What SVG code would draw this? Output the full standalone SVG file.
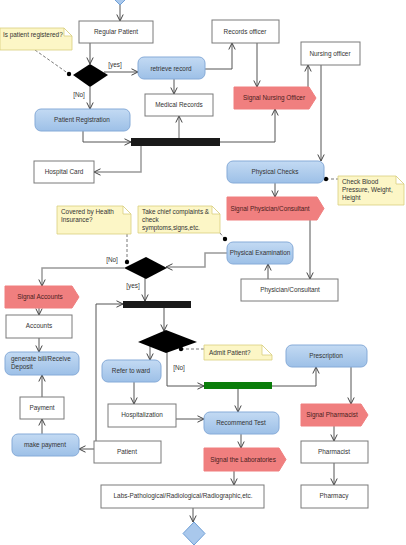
<svg xmlns="http://www.w3.org/2000/svg" width="406" height="545" viewBox="0 0 406 545">
<style>
text{font-family:"Liberation Sans",Arial,sans-serif;font-size:6.4px;fill:#333}
.c{text-anchor:middle}
.box{fill:#fff;stroke:#7a7a7a;stroke-width:1}
.act{fill:url(#g);stroke:#86abd8;stroke-width:1}
.sig{fill:#f07f7f;stroke:#f07f7f}
.sig + text{fill:#4a2020}
.note{fill:#fcf6c6;stroke:#d9cf7e;stroke-width:0.8}
.fold{fill:#fff;stroke:#d9cf7e;stroke-width:0.8}
.dec{fill:#000}
.ln{fill:none;stroke:#555;stroke-width:1;marker-end:url(#a)}
.lg{fill:none;stroke:#999;stroke-width:1.5;marker-end:url(#a)}
.dl{fill:none;stroke:#555;stroke-width:0.8;stroke-dasharray:3,2}
</style>
<defs>
<linearGradient id="g" x1="0" y1="0" x2="0" y2="1"><stop offset="0" stop-color="#c3daf3"/><stop offset="1" stop-color="#9dc0e7"/></linearGradient>
<marker id="a" markerUnits="userSpaceOnUse" markerWidth="8" markerHeight="8" viewBox="0 0 8 8" refX="7.5" refY="4" orient="auto"><path d="M1,0.8 L7.5,4 L1,7.2" fill="none" stroke="#444" stroke-width="1"/></marker>
</defs>

<g id="connectors">
<path class="ln" d="M120,5 V21"/>
<path class="ln" d="M90,43 V64"/>
<path class="ln" d="M104,72 H138"/>
<path class="ln" d="M90,87 V109"/>
<path class="ln" d="M174,79 V94"/>
<path class="ln" d="M205,69 H232 V43"/>
<path class="ln" d="M257,43 V87"/>
<path class="ln" d="M308,87 V65"/>
<path class="ln" d="M321,65 V161"/>
<path class="ln" d="M83,131 V142 H131"/>
<path class="lg" d="M179,138 V116"/>
<path class="ln" d="M220,142 H275 V109"/>
<path class="lg" d="M141,146 V172 H94"/>
<path class="ln" d="M275,183 V197"/>
<path class="ln" d="M310,220 V279"/>
<path class="ln" d="M268,279 V264"/>
<path class="lg" d="M227,253 H205 V267 H166"/>
<path class="lg" d="M124,268 H42 V286"/>
<path class="ln" d="M145,278 V301"/>
<path class="ln" d="M39,308 V315"/>
<path class="ln" d="M39,338 V352"/>
<path class="ln" d="M42,397 V375"/>
<path class="ln" d="M42,434 V419"/>
<path class="ln" d="M94,449 H79"/>
<path class="ln" d="M96,441 V304 H123"/>
<path class="ln" d="M164,308 V331"/>
<path class="ln" d="M150,346 V360"/>
<path class="ln" d="M167,352 V386 H204"/>
<path class="ln" d="M272,386 H316 V367"/>
<path class="ln" d="M238,389 V412"/>
<path class="ln" d="M134,382 V404"/>
<path class="ln" d="M176,419 H204"/>
<path class="ln" d="M241,434 V448"/>
<path class="ln" d="M234,471 V485"/>
<path class="ln" d="M193,508 V522"/>
<path class="ln" d="M351,367 V404"/>
<path class="ln" d="M334,426 V441"/>
<path class="ln" d="M334,463 V485"/>
<path class="dl" d="M35,50 L69,74"/>
<circle cx="69" cy="74" r="2.2" fill="#000"/>
<path class="dl" d="M127,234 V262"/>
<circle cx="127" cy="262" r="2.2" fill="#000"/>
<path class="dl" d="M220,233 L225,239"/>
<circle cx="225" cy="239" r="2.2" fill="#000"/>
<path class="dl" d="M326,179 H338"/>
<circle cx="326" cy="179" r="2.2" fill="#000"/>
<path class="dl" d="M181,349 H204"/>
<circle cx="181" cy="349" r="2.2" fill="#000"/>
<text x="115" y="67" class="c">[yes]</text>
<text x="79" y="97" class="c">[No]</text>
<text x="112" y="262" class="c">[No]</text>
<text x="133" y="288" class="c">[yes]</text>
<text x="179" y="370" class="c">[No]</text>
</g>

<g id="start"><path d="M120,-17 L131,-6 L120,5 L109,-6 Z" fill="#a9c8ec" stroke="#6f9fd6"/></g>
<g id="regular-patient"><rect class="box" x="79" y="21" width="74" height="22"/><text x="116" y="34" class="c">Regular Patient</text></g>
<g id="note-registered"><path class="note" d="M0,28 H64 L72,36 V50 H0 Z"/><path class="fold" d="M64,28 V36 H72 Z"/><text x="3" y="37">Is patient registered?</text></g>
<g id="decision1"><path class="dec" d="M73,75 L90,64 L108,75 L90,87 Z"/></g>
<g id="retrieve-record"><rect class="act" x="138" y="57" width="67" height="22" rx="6"/><text x="171" y="71" class="c">retrieve record</text></g>
<g id="records-officer"><rect class="box" x="212" y="20" width="67" height="23"/><text x="245" y="34" class="c">Records officer</text></g>
<g id="medical-records"><rect class="box" x="145" y="94" width="68" height="22"/><text x="179" y="107" class="c">Medical Records</text></g>
<g id="nursing-officer"><rect class="box" x="301" y="42" width="59" height="23"/><text x="330" y="56" class="c">Nursing officer</text></g>
<g id="signal-nursing"><path class="sig" d="M234,87 H309 L316,98 L309,109 H234 Z"/><text x="274" y="100" class="c">Signal Nursing Officer</text></g>
<g id="patient-registration"><rect class="act" x="35" y="109" width="95" height="22" rx="6"/><text x="82" y="122" class="c">Patient Registration</text></g>
<g id="fork1"><rect x="131" y="138" width="89" height="8" fill="#1a1a1a"/></g>
<g id="hospital-card"><rect class="box" x="34" y="161" width="60" height="22"/><text x="64" y="174" class="c">Hospital Card</text></g>
<g id="physical-checks"><rect class="act" x="227" y="161" width="97" height="22" rx="6"/><text x="275" y="174" class="c">Physical Checks</text></g>
<g id="note-checks"><path class="note" d="M338,176 H396 L404,184 V205 H338 Z"/><path class="fold" d="M396,176 V184 H404 Z"/><text x="342" y="184">Check Blood</text><text x="342" y="192">Pressure, Weight,</text><text x="342" y="200">Height</text></g>
<g id="signal-physician"><path class="sig" d="M227,197 H317 L324,208.5 L317,220 H227 Z"/><text x="270" y="211" class="c">Signal Physician/Consultant</text></g>
<g id="note-insurance"><path class="note" d="M57,206 H123 L131,214 V234 H57 Z"/><path class="fold" d="M123,206 V214 H131 Z"/><text x="61" y="214">Covered by Health</text><text x="61" y="222">Insurance?</text></g>
<g id="note-complaints"><path class="note" d="M138,206 H212 L220,214 V233 H138 Z"/><path class="fold" d="M212,206 V214 H220 Z"/><text x="142" y="214">Take chief complaints &amp;</text><text x="142" y="222">check</text><text x="142" y="230">symptoms,signs,etc.</text></g>
<g id="physical-examination"><rect class="act" x="227" y="242" width="66" height="22" rx="6"/><text x="260" y="255" class="c">Physical Examination</text></g>
<g id="physician-consultant"><rect class="box" x="241" y="279" width="97" height="22"/><text x="290" y="292" class="c">Physician/Consultant</text></g>
<g id="decision2"><path class="dec" d="M124,268 L146,257 L167,268 L146,279 Z"/></g>
<g id="signal-accounts"><path class="sig" d="M5,286 H72 L79,297 L72,308 H5 Z"/><text x="40" y="299" class="c">Signal Accounts</text></g>
<g id="accounts"><rect class="box" x="6" y="315" width="66" height="23"/><text x="39" y="328" class="c">Accounts</text></g>
<g id="generate-bill"><rect class="act" x="5" y="352" width="74" height="23" rx="6"/><text x="11" y="361">generate bill/Receive</text><text x="11" y="369">Deposit</text></g>
<g id="payment"><rect class="box" x="20" y="397" width="44" height="22"/><text x="42" y="410" class="c">Payment</text></g>
<g id="make-payment"><rect class="act" x="12" y="434" width="67" height="22" rx="6"/><text x="45" y="447" class="c">make payment</text></g>
<g id="patient"><rect class="box" x="94" y="441" width="67" height="22"/><text x="127" y="454" class="c">Patient</text></g>
<g id="fork2"><rect x="123" y="301" width="68" height="7" fill="#1a1a1a"/></g>
<g id="decision3"><path class="dec" d="M138,342 L166,330 L197,342 L166,353 Z"/></g>
<g id="note-admit"><path class="note" d="M204,345 H262 L272,355 V360 H204 Z"/><path class="fold" d="M262,345 V355 H272 Z"/><text x="209" y="355">Admit Patient?</text></g>
<g id="refer-ward"><rect class="act" x="102" y="360" width="59" height="22" rx="6"/><text x="131" y="373" class="c">Refer to ward</text></g>
<g id="fork3"><rect x="204" y="382" width="68" height="7" fill="#0a7d0a"/></g>
<g id="prescription"><rect class="act" x="286" y="345" width="81" height="22" rx="6"/><text x="326" y="358" class="c">Prescription</text></g>
<g id="hospitalization"><rect class="box" x="108" y="404" width="68" height="23"/><text x="142" y="417" class="c">Hospitalization</text></g>
<g id="recommend-test"><rect class="act" x="204" y="412" width="75" height="22" rx="6"/><text x="241" y="425" class="c">Recommend Test</text></g>
<g id="signal-pharmacist"><path class="sig" d="M301,404 H361 L368,415 L361,426 H301 Z"/><text x="332" y="417" class="c">Signal Pharmacist</text></g>
<g id="pharmacist"><rect class="box" x="301" y="441" width="67" height="22"/><text x="334" y="454" class="c">Pharmacist</text></g>
<g id="signal-labs"><path class="sig" d="M204,448 H279 L286,459.5 L279,471 H204 Z"/><text x="243" y="462" class="c">Signal the Laboratories</text></g>
<g id="labs"><rect class="box" x="101" y="485" width="163" height="23"/><text x="183" y="498" class="c">Labs-Pathological/Radiological/Radiographic,etc.</text></g>
<g id="pharmacy"><rect class="box" x="301" y="485" width="67" height="23"/><text x="334" y="498" class="c">Pharmacy</text></g>
<g id="end"><path d="M194,522 L205,533.5 L194,545 L183,533.5 Z" fill="#a9c8ec" stroke="#6f9fd6"/></g>
</svg>
